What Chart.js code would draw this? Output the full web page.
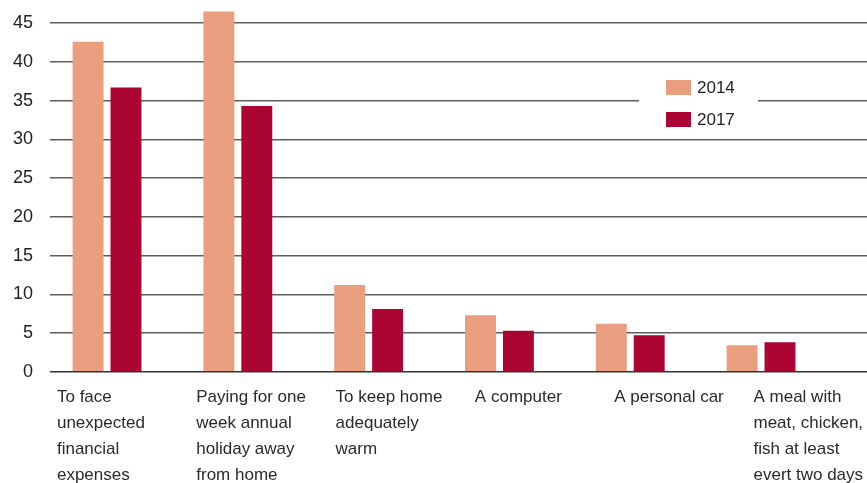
<!DOCTYPE html>
<html>
<head>
<meta charset="utf-8">
<script src="https://cdn.jsdelivr.net/npm/chart.js@4/dist/chart.umd.min.js"></script>
<style>
  html, body { margin: 0; padding: 0; background: #fff; }
  #wrap { width: 867px; height: 483px; position: relative; }
</style>
</head>
<body>
<div id="wrap"><canvas id="c"></canvas></div>
<script>
const categories = [
  ["To face", "unexpected", "financial", "expenses"],
  ["Paying for one", "week annual", "holiday away", "from home"],
  ["To keep home", "adequately", "warm"],
  ["A computer"],
  ["A personal car"],
  ["A meal with", "meat, chicken,", "fish at least", "evert two days"]
];
const seriesNames = ["2014", "2017"];
const values2014 = [42.6, 46.5, 11.2, 7.3, 6.2, 3.4];
const values2017 = [36.7, 34.3, 8.1, 5.3, 4.7, 3.8];
const yTicks = [0, 5, 10, 15, 20, 25, 30, 35, 40, 45];

const colors = ["#E89E7F", "#AA0533"];
const FONT = "'Liberation Sans', Arial, sans-serif";

const toPoints = arr => arr.map((v, i) => ({ x: i, y: v }));
const catTicks = () => categories.map((_, i) => ({ value: i }));

const legendPlugin = {
  id: 'insideLegend',
  afterDraw(chart) {
    const ctx = chart.ctx;
    ctx.save();
    ctx.fillStyle = '#ffffff';
    ctx.fillRect(639, 72, 119, 62);
    ctx.font = "17px " + FONT;
    ctx.textBaseline = 'middle';
    ctx.textAlign = 'left';
    chart.data.datasets.forEach((ds, i) => {
      const y = 80 + i * 32;
      ctx.fillStyle = ds.backgroundColor;
      ctx.fillRect(666, y, 25, 15);
      ctx.fillStyle = '#222';
      ctx.fillText(ds.label, 697, y + 8);
    });
    ctx.restore();
  }
};

new Chart(document.getElementById('c'), {
  type: 'bar',
  data: {
    datasets: [
      { label: seriesNames[0], data: toPoints(values2014), backgroundColor: colors[0], xAxisID: 'x', yAxisID: 'y' },
      { label: seriesNames[1], data: toPoints(values2017), backgroundColor: colors[1], xAxisID: 'x', yAxisID: 'y' }
    ]
  },
  options: {
    responsive: true,
    maintainAspectRatio: false,
    animation: false,
    layout: { padding: { left: 0, right: 0, top: 0, bottom: 0 } },
    categoryPercentage: 0.58,
    barPercentage: 0.815,
    plugins: { legend: { display: false }, tooltip: { enabled: false } },
    scales: {
      x: {
        type: 'linear',
        display: false,
        offset: false,
        min: -0.436,
        max: 5.81,
        afterBuildTicks: s => { s.ticks = catTicks(); }
      },
      xl: {
        type: 'linear',
        position: 'bottom',
        offset: false,
        min: -0.05,
        max: 5.815,
        grid: { display: false, drawTicks: false, offset: false },
        border: { display: false },
        afterBuildTicks: s => { s.ticks = catTicks(); },
        afterFit: s => { s.height = 111.3; s.paddingLeft = 0; s.paddingRight = 0; },
        ticks: {
          autoSkip: false,
          maxRotation: 0,
          minRotation: 0,
          align: 'start',
          padding: 13,
          color: '#2a2a2a',
          font: { family: FONT, size: 17, lineHeight: 26 / 17 },
          callback: v => categories[v] || ''
        }
      },
      y: {
        type: 'linear',
        min: 0,
        max: 48,
        afterBuildTicks: s => { s.ticks = yTicks.map(v => ({ value: v })); },
        afterFit: s => { s.width = 50; s.paddingTop = 0; s.paddingBottom = 0; },
        border: { display: false },
        grid: {
          drawTicks: false,
          lineWidth: 1.5,
          color: c => (c.tick && c.tick.value === 0) ? '#333333' : '#5e5e5e'
        },
        ticks: {
          padding: 17,
          color: '#222',
          font: { family: FONT, size: 18 }
        }
      }
    }
  },
  plugins: [legendPlugin]
});
</script>
</body>
</html>
